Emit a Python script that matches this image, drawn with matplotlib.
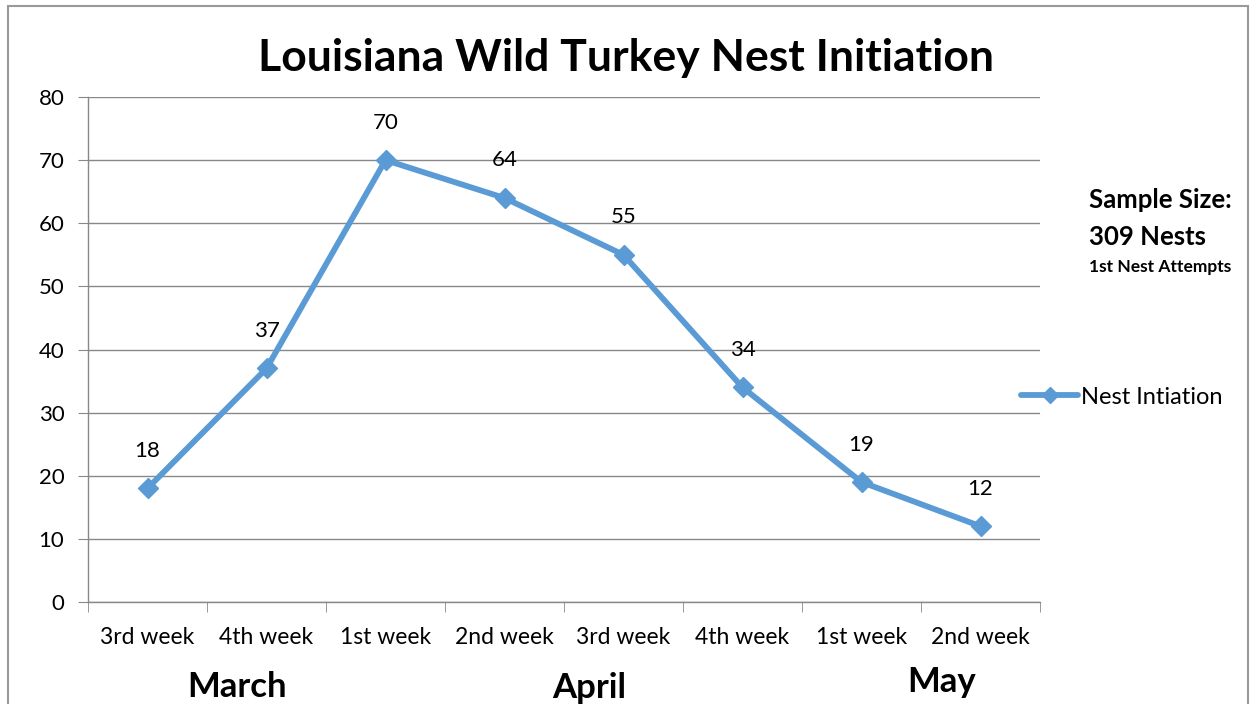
import matplotlib.pyplot as plt
import matplotlib.patches as patches
import numpy as np

# data
weeks = ['3rd week', '4th week', '1st week', '2nd week', '3rd week', '4th week', '1st week', '2nd week']
nests = [18, 37, 70, 64, 55, 34, 19, 12]
months = ['March', 'April', 'May']
month_pos = [0.75, 3.71, 6.67]      # x position of month label (in category units)
month_y = [-0.137, -0.139, -0.127]  # axes fraction (top of text)

plt.rcParams['font.family'] = ['Lato', 'DejaVu Sans']
blue = '#5B9BD5'
gray = '#888888'

fig = plt.figure(figsize=(12.53, 7.04), dpi=100)
ax = fig.add_axes([88 / 1253, 102 / 704, 952 / 1253, 505 / 704])

x = np.arange(len(nests))
ax.plot(x, nests, color=blue, lw=4.2, marker='D', ms=10, mfc=blue, mec=blue,
        label='Nest Intiation', solid_capstyle='round')
for xi, v in zip(x, nests):
    ax.annotate(str(v), (xi, v), xytext=(0, 27), textcoords='offset points',
                ha='center', va='center', fontsize=16)

ax.set_xlim(-0.5, 7.5)
ax.set_ylim(0, 80)
ax.set_yticks(range(0, 81, 10))
ax.set_xticks(x)
ax.set_xticklabels(weeks, fontsize=16.5)
ax.set_xticks(np.arange(-0.5, 8, 1), minor=True)
ax.tick_params(axis='x', which='major', length=0, pad=18)
ax.tick_params(axis='x', which='minor', length=7, color=gray)
ax.tick_params(axis='y', length=7, color=gray, labelsize=16, pad=10)
ax.grid(axis='y', color=gray, lw=1)
ax.set_axisbelow(True)
for s in ['top', 'right']:
    ax.spines[s].set_visible(False)
for s in ['left', 'bottom']:
    ax.spines[s].set_color(gray)
    ax.spines[s].set_linewidth(1)

for m, mx, my in zip(months, month_pos, month_y):
    ax.text(mx, my, m, transform=ax.get_xaxis_transform(), ha='center', va='top',
            fontsize=25, fontweight='bold')

fig.text(626 / 1253, 1 - 58 / 704, 'Louisiana Wild Turkey Nest Initiation', ha='center', va='center',
         fontsize=32, fontweight='bold')

fig.text(1089 / 1253, 1 - 200 / 704, 'Sample Size:', fontsize=18.5, fontweight='bold', va='center')
fig.text(1089 / 1253, 1 - 237 / 704, '309 Nests', fontsize=18.5, fontweight='bold', va='center')
fig.text(1089 / 1253, 1 - 267 / 704, '1st Nest Attempts', fontsize=12.5, fontweight='bold', va='center')

leg = ax.legend(loc='center left', bbox_to_anchor=(1000 / 1253, 1 - 397 / 704),
                bbox_transform=fig.transFigure, frameon=False, fontsize=17,
                handlelength=2.4, handletextpad=0.15, markerscale=0.8)

border = patches.Rectangle((8 / 1253, -0.05), 1240 / 1253, 1.05 - 6 / 704, transform=fig.transFigure,
                           fill=False, edgecolor='#999999', lw=1.5)
fig.patches.append(border)

fig.savefig('out.png', dpi=100)
